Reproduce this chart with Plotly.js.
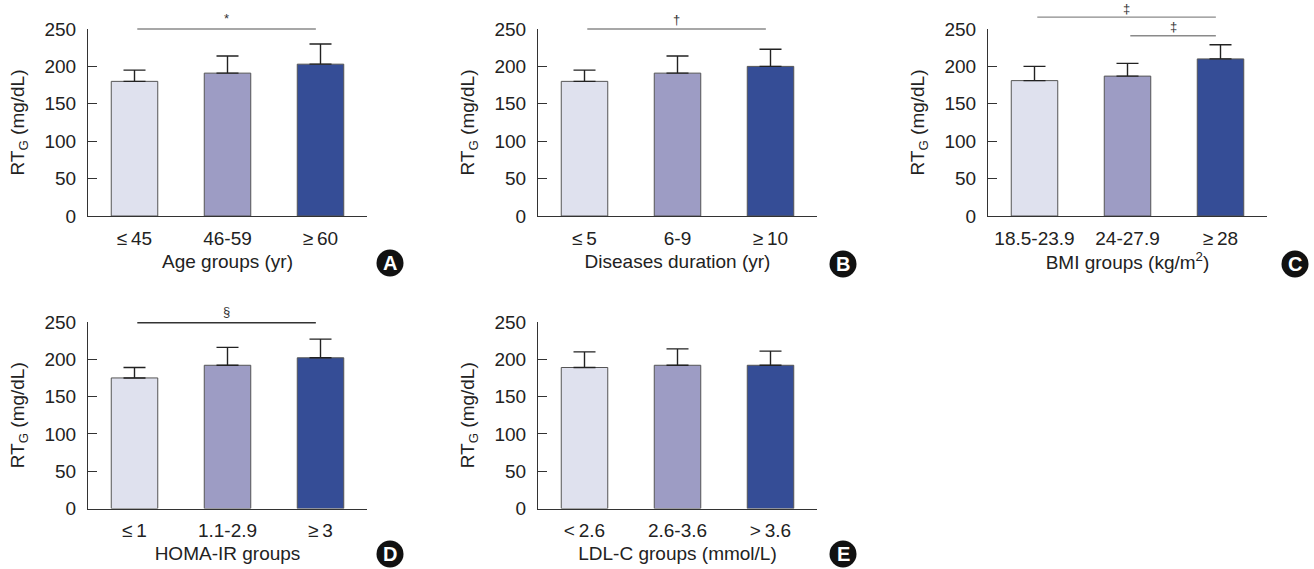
<!DOCTYPE html>
<html>
<head>
<meta charset="utf-8">
<script src="https://cdn.plot.ly/plotly-3.0.1.min.js"></script>
<style>html,body{margin:0;padding:0;background:#fff;}#chart{width:1314px;height:569px;}</style>
</head>
<body>
<div id="chart"></div>
<script>
// ---- data ----
const catsA = ['≤\u200945', '46-59', '≥\u200960'];
const meanA = [180, 191, 203];
const errA  = [15, 23, 27];

const catsB = ['≤\u20095', '6-9', '≥\u200910'];
const meanB = [180, 191, 200];
const errB  = [15, 23, 23];

const catsC = ['18.5-23.9', '24-27.9', '≥\u200928'];
const meanC = [181, 187, 210];
const errC  = [19, 17, 19];

const catsD = ['≤\u20091', '1.1-2.9', '≥\u20093'];
const meanD = [175, 192, 202];
const errD  = [14, 24, 25];

const catsE = ['<\u20092.6', '2.6-3.6', '>\u20093.6'];
const meanE = [189, 192, 192];
const errE  = [21, 22, 19];

const xTitles = ['Age groups (yr)', 'Diseases duration (yr)', 'BMI groups (kg/m<sup>2</sup>)', 'HOMA-IR groups', 'LDL-C groups (mmol/L)'];
const panelLetters = ['A', 'B', 'C', 'D', 'E'];
const yTicks = [0, 50, 100, 150, 200, 250];
const yMax = 250;

// significance brackets: [panel index, from category, to category, line level, symbol, symbol level]
const sigPanel  = [0, 1, 2, 2, 3];
const sigFrom   = [0, 0, 0, 1, 0];
const sigTo     = [2, 2, 2, 2, 2];
const sigLevel  = [250, 250, 266, 241, 249];
const sigSymbol = ['*', '†', '‡', '‡', '§'];
const sigSymLvl = [264, 263, 278, 253, 264];
const sigColor  = ['#8a8a8a', '#8a8a8a', '#8a8a8a', '#8a8a8a', '#333333'];

// ---- styling ----
const barColors = ['#dfe1ee', '#9d9cc4', '#354d96'];
const W = 1314, H = 569;
const xDomPx = [[88, 367], [538, 817], [988, 1267], [88, 367], [538, 817]];
const yDomPx = [[29, 216], [29, 216], [29, 216], [322, 508.5], [322, 508.5]];
const circlePx = [[390, 263], [843, 264], [1295, 264], [390, 554], [843, 554]];

const cats = [catsA, catsB, catsC, catsD, catsE];
const means = [meanA, meanB, meanC, meanD, meanE];
const errs = [errA, errB, errC, errD, errE];

const font = "'Liberation Sans', Arial, Helvetica, sans-serif";
const traces = [];
const layout = {
  width: W, height: H,
  margin: {l: 0, r: 0, t: 0, b: 0},
  paper_bgcolor: '#ffffff', plot_bgcolor: 'rgba(0,0,0,0)',
  showlegend: false,
  bargap: 0.5,
  font: {family: font, color: '#222222', size: 18},
  shapes: [], annotations: []
};

for (let p = 0; p < 5; p++) {
  const xs = p === 0 ? 'x' : 'x' + (p + 1);
  const ys = p === 0 ? 'y' : 'y' + (p + 1);
  const xk = p === 0 ? 'xaxis' : 'xaxis' + (p + 1);
  const yk = p === 0 ? 'yaxis' : 'yaxis' + (p + 1);
  traces.push({
    type: 'bar', x: cats[p], y: means[p], xaxis: xs, yaxis: ys,
    marker: {color: barColors, line: {color: '#555555', width: 1}},
    error_y: {type: 'data', array: errs[p], arrayminus: errs[p].map(() => 0), symmetric: false,
              visible: true, color: '#222222', thickness: 1.4, width: 11},
    hoverinfo: 'none'
  });
  layout[xk] = {
    domain: [xDomPx[p][0] / W, xDomPx[p][1] / W],
    anchor: ys, type: 'category', range: [-0.5, 2.5],
    showline: true, linecolor: '#333333', linewidth: 1,
    ticks: '', showgrid: false, zeroline: false, fixedrange: true,
    tickfont: {size: 19, color: '#222222'}, ticklabelstandoff: 5,
    title: {text: xTitles[p], font: {size: 19, color: '#222222'}, standoff: 6}
  };
  layout[yk] = {
    domain: [1 - yDomPx[p][1] / H, 1 - yDomPx[p][0] / H],
    anchor: xs, range: [0, yMax], tickvals: yTicks,
    showline: true, linecolor: '#333333', linewidth: 1,
    ticks: 'inside', ticklen: 9, tickcolor: '#333333', tickwidth: 1,
    showgrid: false, zeroline: false, fixedrange: true,
    tickfont: {size: 19, color: '#222222'}, ticklabelstandoff: 7,
    title: {text: 'RT<sub>G</sub> (mg/dL)', font: {size: 19, color: '#222222'}, standoff: 14}
  };
  // letter circle
  const r = 13.5;
  layout.shapes.push({type: 'circle', xref: 'paper', yref: 'paper',
    x0: (circlePx[p][0] - r) / W, x1: (circlePx[p][0] + r) / W,
    y0: 1 - (circlePx[p][1] + r) / H, y1: 1 - (circlePx[p][1] - r) / H,
    fillcolor: '#111111', line: {width: 0}});
  layout.annotations.push({xref: 'paper', yref: 'paper',
    x: circlePx[p][0] / W, y: 1 - circlePx[p][1] / H, xanchor: 'center', yanchor: 'middle',
    text: '<b>' + panelLetters[p] + '</b>', showarrow: false,
    font: {size: 20, color: '#ffffff', family: font}});
}

for (let s = 0; s < sigPanel.length; s++) {
  const p = sigPanel[s];
  const xs = p === 0 ? 'x' : 'x' + (p + 1);
  const ys = p === 0 ? 'y' : 'y' + (p + 1);
  const n = cats[p].length;
  const x0 = (sigFrom[s] + 0.53) / n, x1 = (sigTo[s] + 0.45) / n;
  layout.shapes.push({type: 'line', xref: xs + ' domain', yref: ys + ' domain',
    x0: x0, x1: x1, y0: sigLevel[s] / yMax, y1: sigLevel[s] / yMax,
    line: {color: sigColor[s], width: 1.3}});
  layout.annotations.push({xref: xs + ' domain', yref: ys + ' domain',
    x: (x0 + x1) / 2, y: sigSymLvl[s] / yMax, xanchor: 'center', yanchor: 'middle',
    text: sigSymbol[s], showarrow: false, font: {size: 13, color: '#333333'}});
}

Plotly.newPlot('chart', traces, layout, {displayModeBar: false, staticPlot: true});
</script>
</body>
</html>
